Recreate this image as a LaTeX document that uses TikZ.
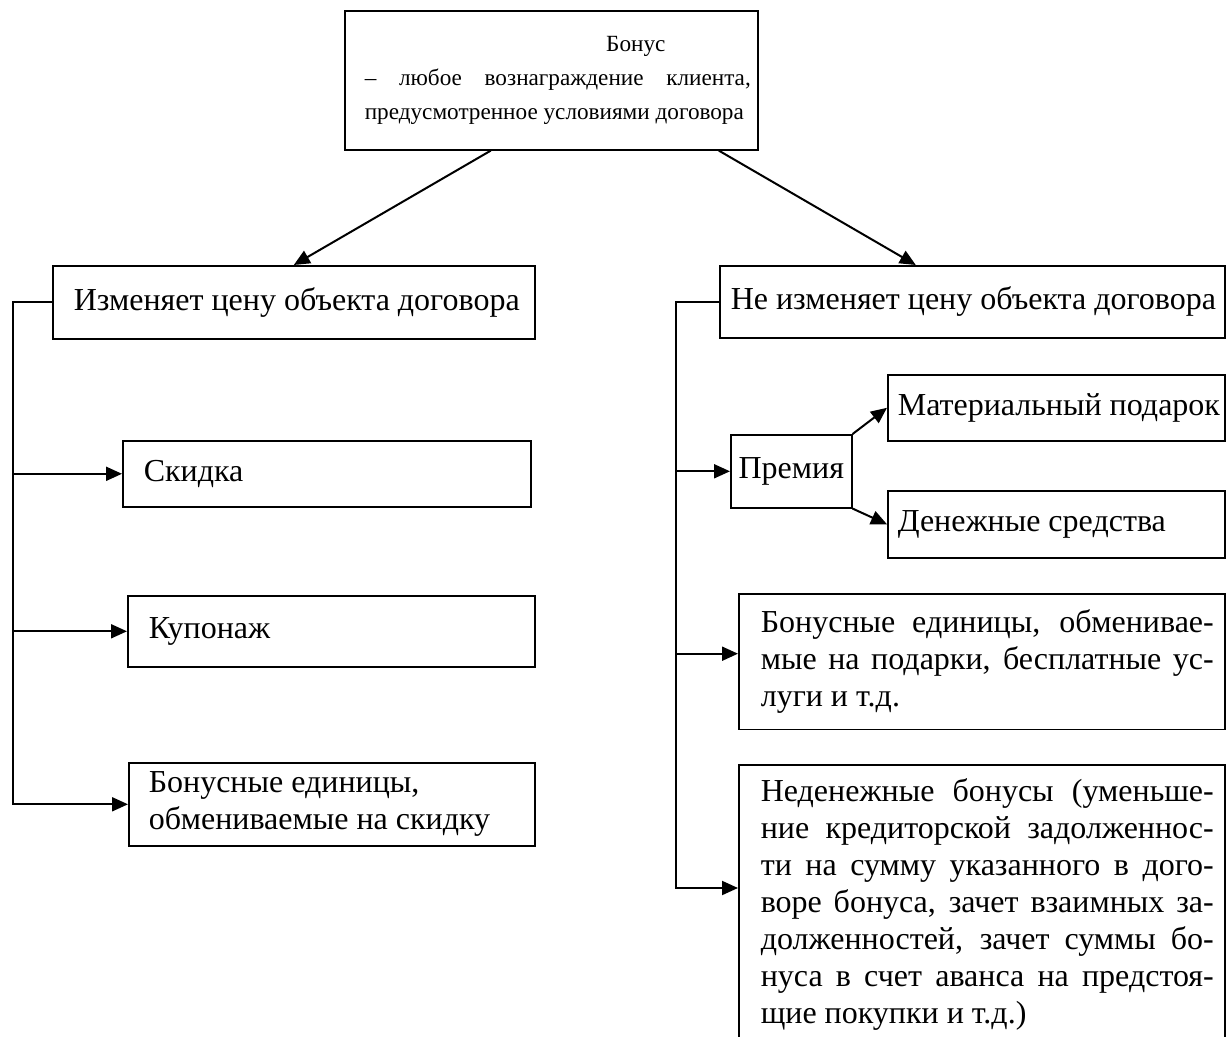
\documentclass[tikz,border=0pt]{standalone}
\usepackage{fontspec}
\setmainfont{Liberation Serif}
\usetikzlibrary{arrows.meta}
\tolerance=10000
\hyphenpenalty=10000
\newcommand\padtext[2]{\mbox{\spaceskip=0pt\xspaceskip=0pt\hspace{#1}#2}}

\begin{document}
\begin{tikzpicture}[x=0.5pt, y=-0.5pt,
    box/.style={draw, line width=0.8pt, anchor=north west, inner xsep=0pt,
      font=\fontsize{16pt}{18.5pt}\selectfont},
    wire/.style={line width=1pt},
    link/.style={wire, -{Triangle[length=8pt,width=7pt]}}]
  \useasboundingbox (0,0) rectangle (1227,1037);

  % Definition of bonus
  \node[box, inner ysep=0pt, text width=206.5pt, minimum height=69.5pt, align=justify,
    font=\fontsize{11.6pt}{17pt}\selectfont] (bonus) at (344,10)
    {\leftskip=10pt\rightskip=3.5pt\spaceskip=0pt\xspaceskip=0pt
     \null\hfill\hspace{78pt}Бонус\hfill\null\linebreak
     – любое вознаграждение клиента,\linebreak
     предусмотренное условиями договора\par};

  % Two kinds of bonus
  \node[box, text width=241pt, minimum height=36.5pt] (chg) at (52,265)
    {\padtext{10.5pt}{Изменяет цену объекта договора}};
  \node[box, text width=252.5pt, minimum height=36pt] (nochg) at (719,265)
    {\padtext{5.5pt}{Не изменяет цену объекта договора}};

  % Left branch
  \node[box, text width=204pt, minimum height=33pt] (skid) at (122,440)
    {\padtext{10.5pt}{Скидка}};
  \node[box, text width=203.5pt, minimum height=35.5pt] (kupon) at (127,595)
    {\padtext{10.5pt}{Купонаж}};
  \node[box, text width=203pt, minimum height=41.5pt] (lunits) at (128,762)
    {\padtext{10pt}{Бонусные единицы,}\newline
     \padtext{10pt}{обмениваемые на скидку}\par};

  % Right branch
  \node[box, text width=60.5pt, minimum height=36.5pt, align=center] (prem) at (730,434) {Премия};
  \node[box, text width=168.5pt, minimum height=33pt] (mat) at (887,374)
    {\padtext{5pt}{Материальный подарок}};
  \node[box, text width=168.5pt, minimum height=33.5pt] (den) at (887,490)
    {\padtext{5pt}{Денежные средства}};
  \node[box, text width=243pt, inner ysep=8pt, align=justify] (runits) at (738,593)
    {\leftskip=11pt\rightskip=5.5pt\spaceskip=0pt\xspaceskip=0pt
     Бонусные единицы, обменивае-\linebreak
     мые на подарки, бесплатные ус-\linebreak луги и т.д.\par};
  \node[box, text width=243pt, inner ysep=7pt, align=justify] (nonmon) at (738,764)
    {\leftskip=11pt\rightskip=5.5pt\spaceskip=0pt\xspaceskip=0pt
     Неденежные бонусы (уменьше-\linebreak
     ние кредиторской задолженнос-\linebreak
     ти на сумму указанного в дого-\linebreak
     воре бонуса, зачет взаимных за-\linebreak
     долженностей, зачет суммы бо-\linebreak
     нуса в счет аванса на предстоя-\linebreak
     щие покупки и т.д.)\par};

  % Connectors
  \coordinate (lspine) at (13,0);
  \coordinate (rspine) at (676,0);
  \coordinate (runits-in) at ([yshift=4pt]runits.west);
  \coordinate (nonmon-in) at ([yshift=-62pt]nonmon.north west);

  \draw[link] ([xshift=-30.25pt]bonus.south) -- (chg.north);
  \draw[link] ([xshift=83.75pt]bonus.south) -- ([xshift=-28.25pt]nochg.north);

  \draw[link] (chg.west) -| (lspine |- lunits.west) -- (lunits.west);
  \draw[link] (lspine |- skid.west) -- (skid.west);
  \draw[link] (lspine |- kupon.west) -- (kupon.west);

  \draw[link] (nochg.west) -| (rspine |- nonmon-in) -- (nonmon-in);
  \draw[link] (rspine |- prem.west) -- (prem.west);
  \draw[link] (rspine |- runits-in) -- (runits-in);

  \draw[link] (prem.north east) -- (mat.west);
  \draw[link] (prem.south east) -- (den.west);
\end{tikzpicture}
\end{document}
